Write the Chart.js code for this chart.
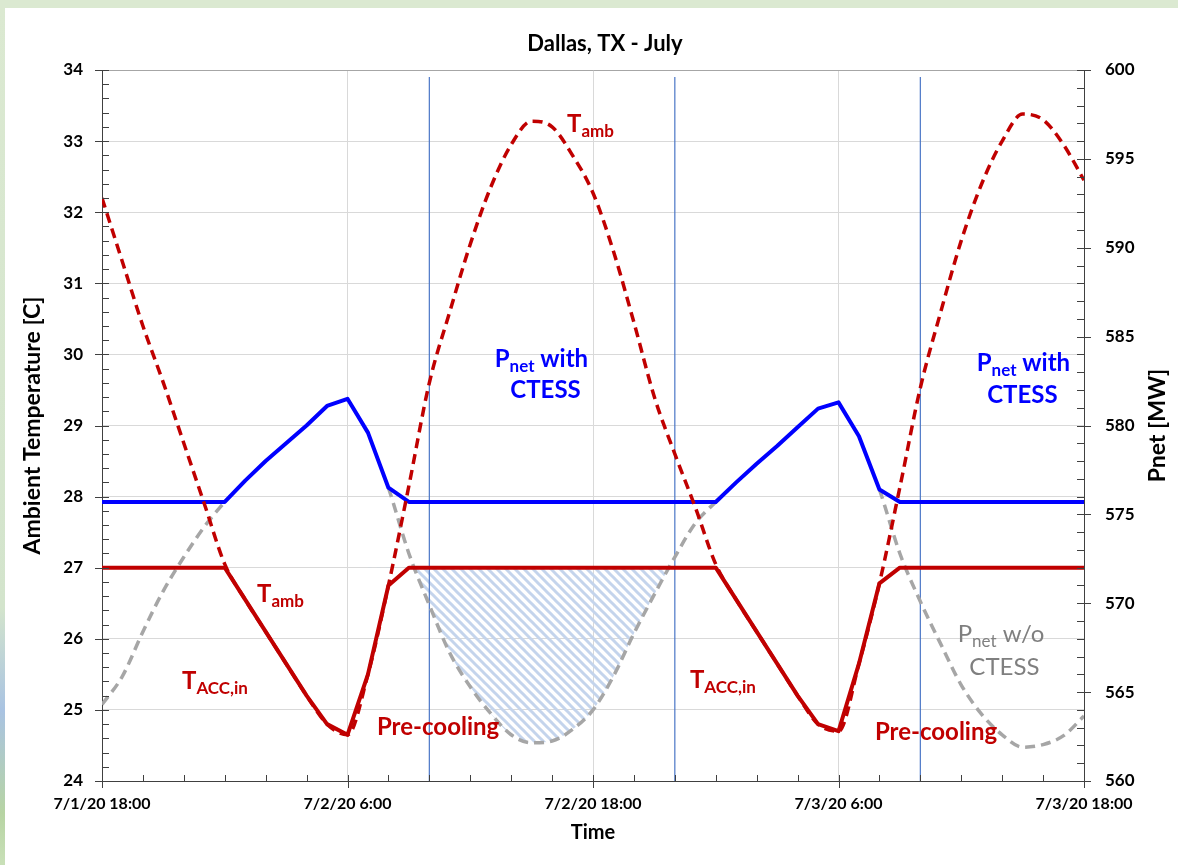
<!DOCTYPE html>
<html>
<head>
<meta charset="utf-8">
<title>Dallas, TX - July</title>
<script src="https://cdn.jsdelivr.net/npm/chart.js@4.4.0/dist/chart.umd.min.js"></script>
<style>
  html, body { margin: 0; padding: 0; }
  body { width: 1178px; height: 865px; background: #dbe9d1; position: relative; overflow: hidden; }
  #edge { position: absolute; left: 0; top: 8px; width: 5px; bottom: 0;
          background: linear-gradient(to bottom, #dbe9d1 0%, #d3e4cc 70%, #a9c3e2 82%, #b7d4a3 94%, #c9e0b8 100%); }
  #panel { position: absolute; left: 5px; top: 8px; right: 0; bottom: 0; background: #ffffff; }
  #c { position: absolute; left: 0; top: 0; }
</style>
</head>
<body>
<div id="edge"></div>
<div id="panel"></div>
<canvas id="c" width="1178" height="865"></canvas>
<script>
// Hours elapsed since 7/1/20 18:00 (hourly samples over two days)
const hours = Array.from({ length: 49 }, (_, i) => i);

// Ambient dry-bulb temperature [C]
const tAmb = [
  32.2, 31.3, 30.4, 29.6, 28.75, 27.9, 27.05, 26.55, 26.1, 25.65,
  25.2, 24.8, 24.65, 25.5, 26.75, 28.15, 29.6, 30.6, 31.55, 32.35,
  32.95, 33.28, 33.2, 32.8, 32.27, 31.45, 30.45, 29.4, 28.6, 27.85,
  27.05, 26.55, 26.1, 25.65, 25.2, 24.8, 24.7, 25.65, 26.78, 28.13,
  29.53, 30.6, 31.6, 32.4, 33.0, 33.38, 33.3, 32.95, 32.45
];

// Air-cooled condenser inlet temperature with CTESS [C]
const tAccIn = [
  27.0, 27.0, 27.0, 27.0, 27.0, 27.0, 27.0, 26.55, 26.1, 25.65,
  25.2, 24.8, 24.65, 25.5, 26.75, 27.0, 27.0, 27.0, 27.0, 27.0,
  27.0, 27.0, 27.0, 27.0, 27.0, 27.0, 27.0, 27.0, 27.0, 27.0,
  27.0, 26.55, 26.1, 25.65, 25.2, 24.8, 24.7, 25.65, 26.78, 27.0,
  27.0, 27.0, 27.0, 27.0, 27.0, 27.0, 27.0, 27.0, 27.0
];

// Net power with CTESS [MW]
const pnetWith = [
  575.7, 575.7, 575.7, 575.7, 575.7, 575.7, 575.7, 576.9, 578.0, 579.0,
  580.0, 581.1, 581.5, 579.6, 576.5, 575.7, 575.7, 575.7, 575.7, 575.7,
  575.7, 575.7, 575.7, 575.7, 575.7, 575.7, 575.7, 575.7, 575.7, 575.7,
  575.7, 576.8, 577.85, 578.85, 579.9, 580.95, 581.3, 579.4, 576.4, 575.7,
  575.7, 575.7, 575.7, 575.7, 575.7, 575.7, 575.7, 575.7, 575.7
];

// Net power without CTESS [MW]
const pnetWithout = [
  564.3, 565.9, 568.4, 570.7, 572.6, 574.3, 575.7, 576.9, 578.0, 579.0,
  580.0, 581.1, 581.5, 579.6, 576.5, 572.8, 569.9, 567.2, 565.3, 563.8,
  562.6, 562.15, 562.25, 562.9, 564.0, 565.9, 568.3, 570.5, 572.6, 574.5,
  575.7, 576.8, 577.85, 578.85, 579.9, 580.95, 581.3, 579.4, 576.4, 572.8,
  570.1, 567.7, 565.4, 563.75, 562.6, 561.9, 562.05, 562.55, 563.65
];

// Storage mode switch times [h]
const switchHours = [16, 28, 40];

const xTickLabels = ['7/1/20 18:00', '7/2/20 6:00', '7/2/20 18:00', '7/3/20 6:00', '7/3/20 18:00'];

// Axis ranges: temperature on the left, net power on the right (aligned)
const T_MIN = 24, T_MAX = 34, P_MIN = 560, P_MAX = 600;
const PLATEAU_C = 27;
const cToMw = c => P_MIN + (c - T_MIN) * (P_MAX - P_MIN) / (T_MAX - T_MIN);

const RED = '#c00000', BLUE = '#0000ff', GREY = '#a6a6a6', TEXT_GREY = '#7f7f7f', EVENT = '#4a76c6';
const FONT = 'Lato, "Open Sans", "DejaVu Sans", sans-serif';

const pts = arr => hours.map((h, i) => ({ x: h, y: arr[i] }));

// Recovered-power region: P without CTESS below the 27 C plateau, during the day
const hatchFrom = 13, hatchTo = 31;
const hatchPts = hours.slice(hatchFrom, hatchTo).map((h, i) => ({ x: h, y: pnetWithout[hatchFrom + i] }));

function stripePattern() {
  const s = 9;
  const c = document.createElement('canvas');
  c.width = s; c.height = s;
  const g = c.getContext('2d');
  g.strokeStyle = '#c4d4ec';
  g.lineWidth = 3;
  for (const k of [-s, 0, s]) {
    g.beginPath();
    g.moveTo(-s, -s + k);
    g.lineTo(2 * s, 2 * s + k);
    g.stroke();
  }
  return g.createPattern(c, 'repeat');
}

// Excel-style tick marks: majors cross the axis, minors point inward
const axisTicks = {
  id: 'axisTicks',
  afterDraw(chart) {
    const { ctx, chartArea: a } = chart;
    const { x, y, y1 } = chart.scales;
    ctx.save();
    ctx.strokeStyle = '#404040';
    ctx.lineWidth = 1;
    ctx.beginPath();
    for (let i = 0; i <= 50; i++) {
      const py = Math.round(y.getPixelForValue(T_MIN + i * 0.2)) + 0.5;
      ctx.moveTo(a.left - (i % 5 === 0 ? 7 : 0), py);
      ctx.lineTo(a.left + 7, py);
    }
    for (let i = 0; i <= 40; i++) {
      const py = Math.round(y1.getPixelForValue(P_MIN + i)) + 0.5;
      ctx.moveTo(a.right - 7, py);
      ctx.lineTo(a.right + (i % 5 === 0 ? 7 : 0), py);
    }
    for (let i = 0; i <= 24; i++) {
      const px = Math.round(x.getPixelForValue(i * 2)) + 0.5;
      ctx.moveTo(px, a.bottom - 6);
      ctx.lineTo(px, a.bottom + (i % 6 === 0 ? 7 : 0));
    }
    ctx.stroke();
    ctx.restore();
  }
};

// Text annotations placed in data coordinates (hours, C)
const notes = [
  { h: 22.73, c: 33.13, color: RED, parts: [['T'], ['amb', true]] },
  { h: 7.58, c: 26.52, color: RED, parts: [['T'], ['amb', true]] },
  { h: 3.91, c: 25.29, color: RED, parts: [['T'], ['ACC,in', true]] },
  { h: 28.74, c: 25.31, color: RED, parts: [['T'], ['ACC,in', true]] },
  { h: 13.44, c: 24.65, color: RED, parts: [['Pre-cooling']] },
  { h: 37.78, c: 24.58, color: RED, parts: [['Pre-cooling']] },
  { h: 21.48, c: 29.82, color: BLUE, align: 'center', parts: [['P'], ['net', true], [' with']] },
  { h: 21.68, c: 29.39, color: BLUE, align: 'center', parts: [['CTESS']] },
  { h: 45.04, c: 29.77, color: BLUE, align: 'center', parts: [['P'], ['net', true], [' with']] },
  { h: 44.99, c: 29.32, color: BLUE, align: 'center', parts: [['CTESS']] },
  { h: 43.94, c: 25.955, color: TEXT_GREY, weight: 'normal', align: 'center', parts: [['P'], ['net', true], [' w/o']] },
  { h: 44.11, c: 25.49, color: TEXT_GREY, weight: 'normal', align: 'center', parts: [['CTESS']] }
];

const textLayer = {
  id: 'textLayer',
  afterDatasetsDraw(chart) {
    const { ctx } = chart;
    const { x, y } = chart.scales;
    ctx.save();
    ctx.textBaseline = 'alphabetic';
    ctx.textAlign = 'left';
    for (const n of notes) {
      const weight = n.weight || 'bold';
      const main = `${weight} 24px ${FONT}`;
      const sub = `${weight} 17px ${FONT}`;
      let total = 0;
      for (const [t, isSub] of n.parts) { ctx.font = isSub ? sub : main; total += ctx.measureText(t).width; }
      let cx = x.getPixelForValue(n.h);
      const by = y.getPixelForValue(n.c);
      if (n.align === 'center') cx -= total / 2;
      ctx.fillStyle = n.color;
      for (const [t, isSub] of n.parts) {
        ctx.font = isSub ? sub : main;
        ctx.fillText(t, cx, isSub ? by + 5 : by);
        cx += ctx.measureText(t).width;
      }
    }
    ctx.restore();
  },
  afterDraw(chart) {
    const { ctx, chartArea: a } = chart;
    ctx.save();
    ctx.fillStyle = '#000';
    ctx.textAlign = 'center';
    ctx.textBaseline = 'middle';
    ctx.font = `bold 22px ${FONT}`;
    ctx.fillText('Dallas, TX - July', (a.left + a.right) / 2 + 12, 44);
    ctx.translate(a.right + 74, (a.top + a.bottom) / 2);
    ctx.rotate(-Math.PI / 2);
    ctx.font = `bold 23px ${FONT}`;
    ctx.fillText('Pnet [MW]', 0, 0);
    ctx.restore();
  }
};

const stripes = stripePattern();

// Where both plants run identically the w/o-CTESS curve lies under the CTESS curve
const sharedWithCtess = ctx =>
  pnetWithout[ctx.p0DataIndex] === pnetWith[ctx.p0DataIndex] &&
  pnetWithout[ctx.p1DataIndex] === pnetWith[ctx.p1DataIndex];

const datasets = [
  {
    label: 'Recovered power', data: hatchPts, yAxisID: 'y1',
    borderWidth: 0, borderColor: 'rgba(0,0,0,0)', pointRadius: 0,
    cubicInterpolationMode: 'monotone',
    fill: { target: { value: cToMw(PLATEAU_C) }, above: 'rgba(0,0,0,0)', below: stripes },
    order: 7
  },
  ...switchHours.map(h => ({
    label: 'Switch ' + h, data: [{ x: h, y: T_MIN }, { x: h, y: 33.9 }], yAxisID: 'y',
    borderColor: EVENT, borderWidth: 1.2, pointRadius: 0, fill: false, order: 6
  })),
  {
    label: 'Pnet w/o CTESS', data: pts(pnetWithout), yAxisID: 'y1',
    borderColor: GREY, borderWidth: 3.5, borderDash: [10, 6], pointRadius: 0,
    cubicInterpolationMode: 'monotone', fill: false, order: 4,
    segment: { borderColor: ctx => sharedWithCtess(ctx) ? 'rgba(0,0,0,0)' : undefined }
  },
  {
    label: 'Pnet with CTESS', data: pts(pnetWith), yAxisID: 'y1',
    borderColor: BLUE, borderWidth: 4, pointRadius: 0,
    tension: 0, borderJoinStyle: 'round', fill: false, order: 3
  },
  {
    label: 'Tamb', data: pts(tAmb), yAxisID: 'y',
    borderColor: RED, borderWidth: 3.5, borderDash: [10, 6], pointRadius: 0,
    cubicInterpolationMode: 'monotone', fill: false, order: 2
  },
  {
    label: 'TACC,in', data: pts(tAccIn), yAxisID: 'y',
    borderColor: RED, borderWidth: 4, pointRadius: 0,
    tension: 0, borderJoinStyle: 'round', fill: false, order: 1
  }
];

const tickFont = { family: FONT, size: 17, weight: 'bold' };

new Chart(document.getElementById('c'), {
  type: 'line',
  data: { datasets },
  options: {
    responsive: false,
    animation: false,
    devicePixelRatio: 1,
    layout: { padding: { top: 70, left: 0, right: 0, bottom: 0 } },
    plugins: { legend: { display: false }, tooltip: { enabled: false }, title: { display: false } },
    scales: {
      x: {
        type: 'linear', min: 0, max: 48,
        afterFit(s) { s.height = 84; },
        ticks: {
          stepSize: 12, autoSkip: false, maxRotation: 0, padding: 13,
          color: '#000', font: { family: FONT, size: 16, weight: 'bold' },
          callback: v => xTickLabels[v / 12]
        },
        grid: {
          drawTicks: false, lineWidth: 1,
          color: c => (c.tick && c.tick.value > 0 && c.tick.value < 48) ? '#d9d9d9' : 'rgba(0,0,0,0)'
        },
        border: { color: '#404040', width: 1 },
        title: { display: true, text: 'Time', color: '#000', font: { family: FONT, size: 20, weight: 'bold' }, padding: { bottom: 20 } }
      },
      y: {
        position: 'left', min: T_MIN, max: T_MAX,
        afterFit(s) { s.width = 102; },
        ticks: { stepSize: 1, padding: 19, color: '#000', font: tickFont },
        grid: {
          drawTicks: false, lineWidth: 1,
          color: c => (c.tick && c.tick.value === T_MAX) ? '#a6a6a6' : '#d9d9d9'
        },
        border: { color: '#404040', width: 1 },
        title: { display: true, text: 'Ambient Temperature [C]', color: '#000', font: { family: FONT, size: 23, weight: 'bold' }, padding: { top: 19 } }
      },
      y1: {
        position: 'right', min: P_MIN, max: P_MAX,
        afterFit(s) { s.width = 94; },
        ticks: { stepSize: 5, padding: 21, color: '#000', font: tickFont },
        grid: { drawOnChartArea: false, drawTicks: false },
        border: { color: '#404040', width: 1 }
      }
    }
  },
  plugins: [axisTicks, textLayer]
});
</script>
</body>
</html>
